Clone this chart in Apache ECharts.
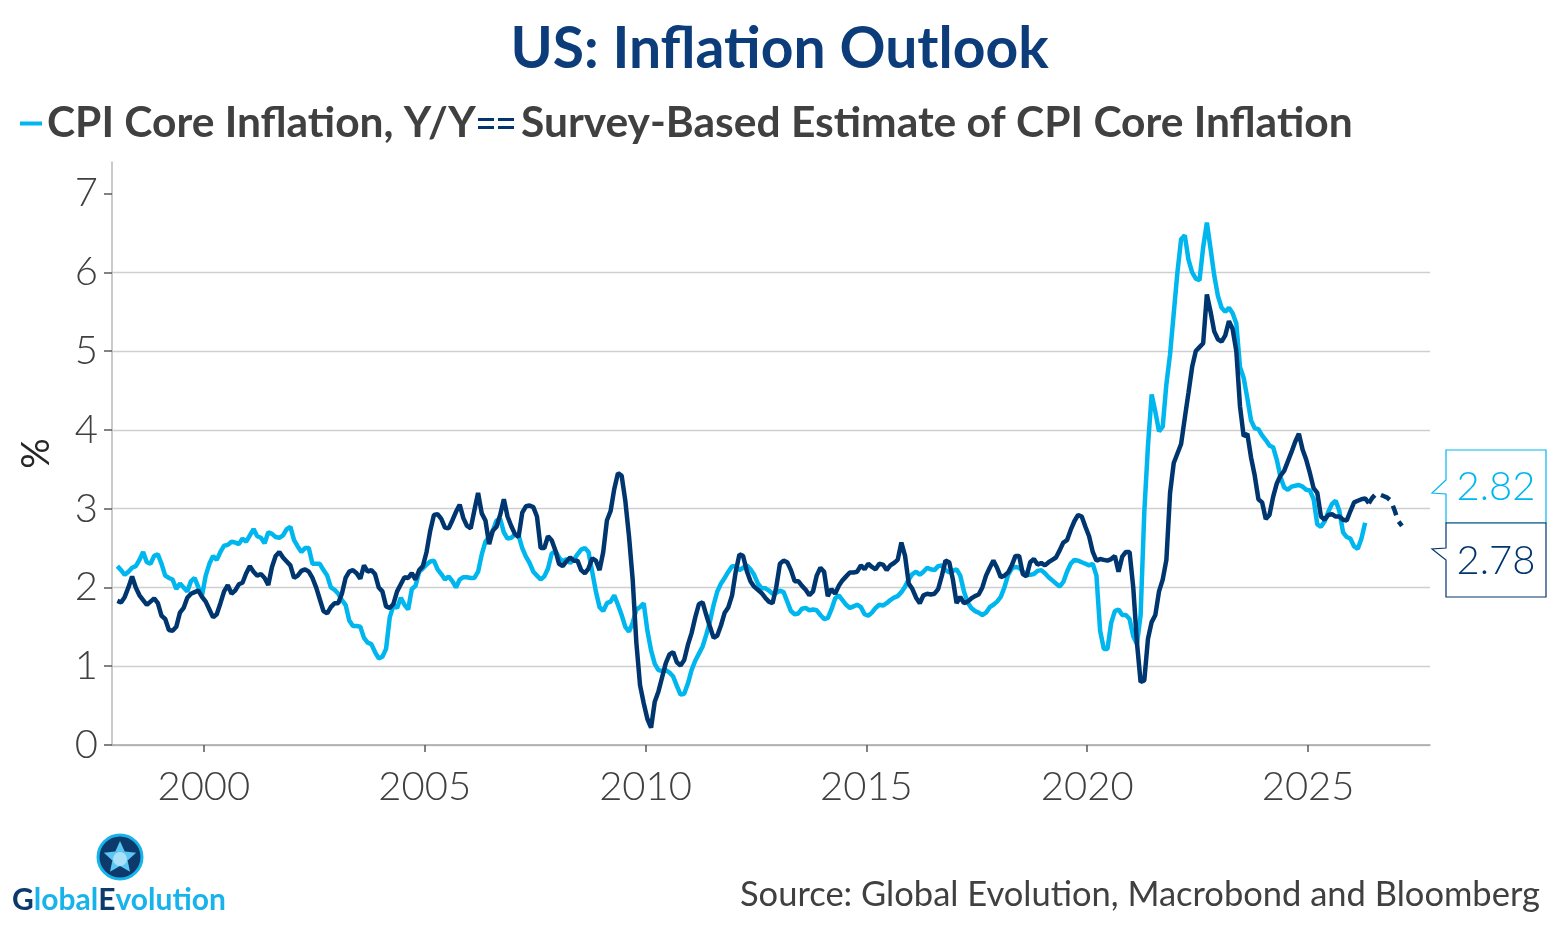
<!DOCTYPE html>
<html>
<head>
<meta charset="utf-8">
<title>US: Inflation Outlook</title>
<script src="https://cdn.jsdelivr.net/npm/echarts@6/dist/echarts.min.js"></script>
<style>
  html, body { margin: 0; padding: 0; background: #fff; }
  #main { width: 1559px; height: 935px; }
</style>
</head>
<body>
<div id="main"></div>
<script>
// monthly data, first value = Jan 1998
var startYear = 1998;

// CPI core inflation, y/y (%)
var cpiCore = [
  2.27, 2.22, 2.16, 2.2, 2.25, 2.27, 2.35, 2.45, 2.32, 2.3, 2.4, 2.42,
  2.3, 2.15, 2.12, 2.1, 1.98, 2.05, 2.0, 1.95, 2.08, 2.12, 2.0, 1.9,
  2.15, 2.3, 2.4, 2.35, 2.45, 2.53, 2.54, 2.58, 2.57, 2.55, 2.62, 2.58,
  2.66, 2.74, 2.65, 2.63, 2.56, 2.7, 2.68, 2.64, 2.63, 2.66, 2.74, 2.77,
  2.6, 2.52, 2.45, 2.5, 2.5, 2.3, 2.3, 2.3, 2.22, 2.15, 2.0, 1.97,
  1.92, 1.84, 1.78, 1.58, 1.51, 1.51, 1.5, 1.36, 1.3, 1.28, 1.18, 1.1,
  1.12, 1.22, 1.62, 1.77, 1.74, 1.87, 1.78, 1.72, 1.98, 2.02, 2.2, 2.24,
  2.29, 2.33, 2.34, 2.23, 2.17, 2.1, 2.14, 2.08, 2.0, 2.1, 2.13, 2.13,
  2.12, 2.12, 2.2, 2.42, 2.58, 2.64, 2.72, 2.85, 2.87, 2.7, 2.62, 2.63,
  2.67, 2.66, 2.5, 2.39, 2.31, 2.2, 2.15, 2.1, 2.14, 2.24, 2.43, 2.46,
  2.38, 2.33, 2.36, 2.31, 2.35, 2.42, 2.48, 2.5, 2.45, 2.2, 1.95, 1.75,
  1.7, 1.8, 1.82, 1.9, 1.78, 1.65, 1.5, 1.44, 1.55, 1.72, 1.75, 1.8,
  1.45, 1.2, 1.03, 0.95, 0.94, 0.95, 0.92, 0.87, 0.75, 0.64, 0.65, 0.78,
  0.95, 1.07, 1.16, 1.25, 1.4, 1.57, 1.78, 1.95, 2.05, 2.12, 2.2, 2.27,
  2.27, 2.22, 2.25, 2.28, 2.23, 2.16, 2.05, 1.99, 1.99, 1.96, 1.92, 1.93,
  1.96, 1.94, 1.82, 1.7, 1.66, 1.67, 1.73, 1.74, 1.71, 1.72, 1.71, 1.65,
  1.6, 1.61, 1.72, 1.86, 1.9, 1.84, 1.78, 1.74, 1.76, 1.78, 1.75, 1.66,
  1.64, 1.68, 1.74, 1.78, 1.77, 1.8, 1.84, 1.87, 1.89, 1.94, 2.01, 2.1,
  2.17, 2.2, 2.16, 2.2, 2.25, 2.23, 2.22, 2.27, 2.28, 2.22, 2.19, 2.21,
  2.23, 2.15, 1.95, 1.81, 1.74, 1.7, 1.68, 1.65, 1.68, 1.75, 1.78, 1.82,
  1.88, 2.0, 2.16, 2.24, 2.26, 2.25, 2.2, 2.17, 2.16, 2.17, 2.21, 2.22,
  2.18, 2.13, 2.09, 2.05, 2.01, 2.07, 2.2, 2.3, 2.35, 2.34, 2.32, 2.3,
  2.28, 2.3, 2.15, 1.45, 1.22, 1.22, 1.55, 1.7, 1.72, 1.65, 1.65, 1.6,
  1.38, 1.28, 1.65, 2.96, 3.8, 4.45, 4.23, 3.98, 4.04, 4.58, 4.96, 5.48,
  6.0, 6.42, 6.47, 6.16, 6.0, 5.92, 5.9, 6.32, 6.63, 6.3, 5.96, 5.7,
  5.55, 5.5, 5.55, 5.48, 5.35, 4.8, 4.66, 4.4, 4.12, 4.02, 4.01, 3.93,
  3.87, 3.8, 3.78, 3.62, 3.4, 3.27, 3.24, 3.28, 3.29, 3.3, 3.28, 3.24,
  3.23, 3.12, 2.8, 2.77, 2.84, 2.96, 3.06, 3.1, 2.97, 2.7, 2.64, 2.62,
  2.52, 2.49, 2.62, 2.82
];

// survey-based estimate of CPI core inflation (%)
var surveyEst = [
  1.83, 1.81, 1.88, 2.0, 2.14, 2.0, 1.9, 1.84, 1.78, 1.82, 1.86, 1.8,
  1.64, 1.6, 1.46, 1.45, 1.5, 1.68, 1.74, 1.87, 1.92, 1.94, 1.96, 1.88,
  1.82, 1.72, 1.62, 1.66, 1.8, 1.95, 2.03, 1.92, 1.96, 2.04, 2.06, 2.18,
  2.27, 2.2, 2.15, 2.17, 2.12, 2.03, 2.26, 2.4, 2.45, 2.38, 2.33, 2.28,
  2.12, 2.15, 2.21, 2.23, 2.2, 2.12, 2.0, 1.85, 1.7, 1.67, 1.75, 1.8,
  1.8, 1.92, 2.12, 2.2, 2.22, 2.18, 2.11, 2.28, 2.2, 2.22, 2.17, 2.0,
  1.95, 1.76, 1.74, 1.79, 1.95, 2.04, 2.13, 2.12, 2.18, 2.1, 2.22, 2.27,
  2.45, 2.72, 2.92, 2.93, 2.87, 2.76, 2.75, 2.85, 2.96, 3.05, 2.88, 2.78,
  2.75, 2.98, 3.2, 2.94, 2.85, 2.55, 2.72, 2.77, 2.92, 3.12, 2.9, 2.78,
  2.68, 2.64, 2.95, 3.03, 3.04, 3.02, 2.9, 2.5, 2.5, 2.65, 2.6, 2.47,
  2.3, 2.27, 2.33, 2.38, 2.34, 2.34, 2.22, 2.18, 2.24, 2.37, 2.34, 2.22,
  2.45, 2.85, 2.97, 3.25, 3.45, 3.42, 3.1, 2.65, 2.1, 1.3, 0.76, 0.53,
  0.33, 0.22, 0.55, 0.68, 0.86, 1.04, 1.15, 1.18, 1.05, 1.01, 1.08, 1.27,
  1.42, 1.62, 1.79, 1.81, 1.65, 1.5, 1.36, 1.39, 1.52, 1.68, 1.75, 1.9,
  2.2, 2.42, 2.4, 2.21, 2.08, 2.01, 1.97, 1.93, 1.87, 1.82, 1.8, 2.0,
  2.3, 2.34, 2.32, 2.22, 2.08, 2.08, 2.02, 1.97, 1.9, 1.95, 2.15, 2.25,
  2.2, 1.89, 1.98, 1.92, 2.02, 2.09, 2.14, 2.19, 2.19, 2.2, 2.28, 2.23,
  2.3, 2.26, 2.23, 2.3, 2.29, 2.22, 2.28, 2.31, 2.35, 2.57, 2.4, 2.05,
  1.98, 1.87, 1.8, 1.9, 1.92, 1.91, 1.92, 1.98, 2.15, 2.34, 2.32, 2.1,
  1.8, 1.88, 1.8, 1.82, 1.86, 1.89, 1.91, 2.0, 2.15, 2.25, 2.34, 2.25,
  2.13, 2.15, 2.19, 2.28, 2.4, 2.4, 2.17, 2.14, 2.32, 2.36, 2.29, 2.31,
  2.28, 2.32, 2.35, 2.38, 2.47, 2.57, 2.6, 2.73, 2.84, 2.92, 2.9, 2.77,
  2.65, 2.45, 2.34, 2.36, 2.35, 2.34, 2.36, 2.4, 2.2, 2.39, 2.45, 2.45,
  2.0, 1.3, 0.8, 0.82, 1.35, 1.56, 1.65, 1.95, 2.1, 2.35, 3.2, 3.58,
  3.7, 3.82, 4.15, 4.47, 4.8, 5.0, 5.05, 5.1, 5.72, 5.5, 5.25, 5.15,
  5.12, 5.2, 5.38, 5.28, 5.0, 4.3, 3.92, 3.95, 3.65, 3.42, 3.12, 3.08,
  2.87, 2.92, 3.15, 3.32, 3.42, 3.48, 3.6, 3.72, 3.85, 3.95, 3.75, 3.62,
  3.45, 3.26, 3.2, 2.9, 2.86, 2.92, 2.93, 2.9, 2.9, 2.86, 2.85, 2.97,
  3.08, 3.1, 3.12, 3.13, 3.07
];

// projection (dashed), starts at the last observed month of surveyEst
var surveyFcst = [3.07, 3.14, 3.19, 3.18, 3.16, 3.14, 3.1, 2.98, 2.84, 2.78];

var yearTicks = [2000, 2005, 2010, 2015, 2020, 2025];
var pctTicks = [0, 1, 2, 3, 4, 5, 6, 7];

var nameCpi = 'CPI Core Inflation, Y/Y';
var nameSurvey = 'Survey-Based Estimate of CPI Core Inflation';

var lightBlue = '#00b6ef';
var navy = '#00366f';
var textGrey = '#404040';

function toPoints(values, offset) {
  return values.map(function (v, i) {
    return [startYear + (offset + i + 0.5) / 12, v];
  });
}

var fcstOffset = surveyEst.length - 1;

// little star for the logo
function starPoints(cx, cy, r1, r2) {
  var pts = [];
  for (var i = 0; i < 10; i++) {
    var r = i % 2 === 0 ? r1 : r2;
    var a = -Math.PI / 2 + i * Math.PI / 5;
    pts.push([cx + r * Math.cos(a), cy + r * Math.sin(a)]);
  }
  return pts;
}

var myChart = echarts.init(document.getElementById('main'));

var legendText = { fontFamily: 'Lato', fontWeight: 'bold', fontSize: 42.5, color: textGrey };

var option = {
  backgroundColor: '#fff',
  animation: false,
  title: {
    text: 'US: Inflation Outlook',
    left: 'center',
    top: 16,
    textStyle: {
      fontFamily: 'Lato',
      fontWeight: 'bold',
      fontSize: 57,
      color: '#0c3d7a'
    }
  },
  legend: [{
    data: [{ name: nameCpi, icon: 'rect' }],
    left: 15,
    top: 97,
    itemWidth: 22,
    itemHeight: 4,
    textStyle: legendText
  }, {
    data: [{
      name: nameSurvey,
      icon: 'path://M0,0H16V3H0Z M20,0H36V3H20Z M0,8H16V11H0Z M20,8H36V11H20Z'
    }],
    left: 473,
    top: 97,
    itemWidth: 40,
    itemHeight: 11,
    textStyle: legendText
  }],
  grid: {
    left: 112,
    right: 129,
    top: 162,
    bottom: 190
  },
  xAxis: {
    type: 'value',
    min: 1997.92,
    max: 2027.76,
    axisLine: { lineStyle: { color: '#a6a6a6', width: 1.5 } },
    axisTick: {
      customValues: yearTicks,
      length: 7,
      lineStyle: { color: '#595959', width: 1.5 }
    },
    axisLabel: {
      customValues: yearTicks,
      formatter: function (v) { return String(v); },
      margin: 22,
      fontFamily: 'Lato',
      fontWeight: 300,
      fontSize: 40,
      color: textGrey
    },
    splitLine: { show: false }
  },
  yAxis: {
    type: 'value',
    min: 0,
    max: 7.4,
    interval: 1,
    name: '%',
    nameLocation: 'middle',
    nameRotate: 90,
    nameGap: 56,
    nameTextStyle: { fontFamily: 'Lato', fontSize: 38, color: '#262626' },
    axisLine: { show: true, lineStyle: { color: '#b8b8b8', width: 1.5 } },
    axisTick: {
      show: true,
      customValues: pctTicks,
      length: 8,
      lineStyle: { color: '#595959', width: 1.5 }
    },
    axisLabel: {
      customValues: pctTicks,
      margin: 14,
      fontFamily: 'Lato',
      fontWeight: 300,
      fontSize: 40,
      color: textGrey
    },
    splitLine: {
      show: true,
      showMaxLine: false,
      lineStyle: { color: '#cfcfcf', width: 1.3 }
    }
  },
  series: [{
    name: nameCpi,
    type: 'line',
    data: toPoints(cpiCore, 0),
    showSymbol: false,
    color: lightBlue,
    lineStyle: { width: 4.5, color: lightBlue }
  }, {
    name: nameSurvey,
    type: 'line',
    data: toPoints(surveyEst, 0),
    showSymbol: false,
    color: navy,
    lineStyle: { width: 4.5, color: navy }
  }, {
    name: nameSurvey,
    type: 'line',
    data: toPoints(surveyFcst, fcstOffset),
    showSymbol: false,
    color: navy,
    lineStyle: { width: 4.5, color: navy, type: [10, 7] }
  }],
  graphic: [
    // end-value call-outs
    {
      type: 'polygon',
      shape: { points: [[1446, 450], [1546, 450], [1546, 523], [1446, 523], [1446, 494], [1432, 493], [1446, 480]] },
      style: { fill: '#fff', stroke: lightBlue, lineWidth: 1.2 }
    },
    {
      type: 'text',
      x: 1496, y: 487,
      style: {
        text: cpiCore[cpiCore.length - 1].toFixed(2),
        fill: lightBlue, fontFamily: 'Lato', fontWeight: 300, fontSize: 40,
        textAlign: 'center', textVerticalAlign: 'middle'
      }
    },
    {
      type: 'polygon',
      shape: { points: [[1446, 523], [1546, 523], [1546, 597], [1446, 597], [1446, 560], [1432, 549], [1446, 548]] },
      style: { fill: '#fff', stroke: navy, lineWidth: 1.2 }
    },
    {
      type: 'text',
      x: 1496, y: 561,
      style: {
        text: surveyFcst[surveyFcst.length - 1].toFixed(2),
        fill: navy, fontFamily: 'Lato', fontWeight: 300, fontSize: 40,
        textAlign: 'center', textVerticalAlign: 'middle'
      }
    },
    // logo
    {
      type: 'circle',
      shape: { cx: 120, cy: 857, r: 22 },
      style: { fill: '#0d3a6d', stroke: '#19b3ec', lineWidth: 3 }
    },
    {
      type: 'polygon',
      shape: { points: starPoints(120, 858, 17, 8) },
      style: { fill: '#5cc6f2' }
    },
    {
      type: 'circle',
      shape: { cx: 120, cy: 859, r: 7 },
      style: { fill: '#a9e1fa' }
    },
    {
      type: 'text',
      x: 12, y: 900,
      style: {
        text: '{d|G}{l|lobal}{d|E}{l|volution}',
        textVerticalAlign: 'middle',
        rich: {
          d: { fontFamily: 'Lato', fontWeight: 'bold', fontSize: 30, fill: '#0d3a6d' },
          l: { fontFamily: 'Lato', fontWeight: 'bold', fontSize: 30, fill: '#19b3ec' }
        }
      }
    },
    // source note
    {
      type: 'text',
      x: 1540, y: 895,
      style: {
        text: 'Source: Global Evolution, Macrobond and Bloomberg',
        fill: textGrey, fontFamily: 'Lato', fontSize: 34.5,
        textAlign: 'right', textVerticalAlign: 'middle'
      }
    }
  ]
};

myChart.setOption(option);
</script>
</body>
</html>
